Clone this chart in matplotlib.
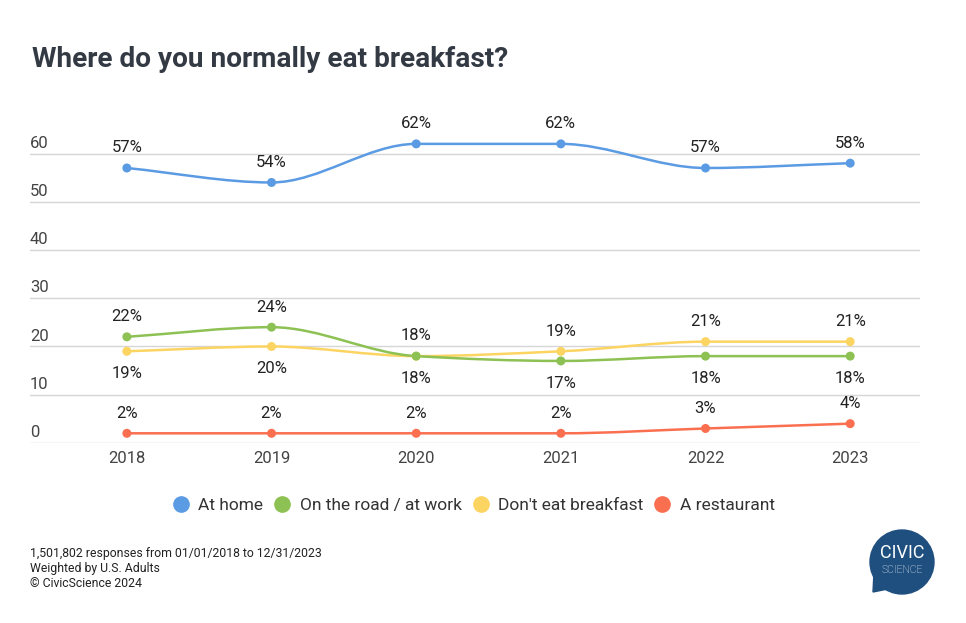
import numpy as np
import matplotlib
matplotlib.use("Agg")
import matplotlib.pyplot as plt
from matplotlib.path import Path
from matplotlib.patches import PathPatch, Circle, Polygon
from matplotlib.lines import Line2D

plt.rcParams['font.family'] = ['Roboto', 'DejaVu Sans']

# Data
years = ['2018', '2019', '2020', '2021', '2022', '2023']
at_home = [57, 54, 62, 62, 57, 58]
on_road = [22, 24, 18, 17, 18, 18]
dont_eat = [19, 20, 18, 19, 21, 21]
restaurant = [2, 2, 2, 2, 3, 4]
series_names = ['At home', 'On the road / at work', "Don't eat breakfast", 'A restaurant']
y_ticks = [0, 10, 20, 30, 40, 50, 60]

colors = ['#5b9be3', '#8dc153', '#fcd462', '#fa6f50']
# label placement: +1 above, -1 below
label_side = [
    [1, 1, 1, 1, 1, 1],
    [1, 1, 1, -1, -1, -1],
    [-1, -1, -1, 1, 1, 1],
    [1, 1, 1, 1, 1, 1],
]


def smooth_path(x, y):
    # monotone cubic tangents -> bezier segments
    x = np.asarray(x, float)
    y = np.asarray(y, float)
    n = len(x)
    d = np.diff(y) / np.diff(x)
    m = np.zeros(n)
    m[0], m[-1] = d[0], d[-1]
    for i in range(1, n - 1):
        if d[i - 1] * d[i] <= 0:
            m[i] = 0
        else:
            m[i] = 2 / (1 / d[i - 1] + 1 / d[i])
    verts = [(x[0], y[0])]
    codes = [Path.MOVETO]
    for i in range(n - 1):
        h = x[i + 1] - x[i]
        verts += [(x[i] + h / 3, y[i] + m[i] * h / 3),
                  (x[i + 1] - h / 3, y[i + 1] - m[i + 1] * h / 3),
                  (x[i + 1], y[i + 1])]
        codes += [Path.CURVE4] * 3
    return Path(verts, codes)


fig = plt.figure(figsize=(9.66, 6.23), dpi=100)
ax = fig.add_axes([0.031, 0.289, 0.921, 0.542])

xs = np.arange(len(years))
all_series = [at_home, on_road, dont_eat, restaurant]
# draw from back to front so the blue line sits on top
for vals, col, sides in zip(all_series[::-1], colors[::-1], label_side[::-1]):
    ax.add_patch(PathPatch(smooth_path(xs, vals), facecolor='none',
                           edgecolor=col, lw=1.8, zorder=3))
    ax.scatter(xs, vals, s=42, color=col, zorder=4, edgecolors='none')
    for xi, v, s in zip(xs, vals, sides):
        ax.annotate(f'{v}%', (xi, v), xytext=(0, 14.5 if s > 0 else -16),
                    textcoords='offset points', ha='center', va='center',
                    fontsize=12, color='#222222', zorder=5)

ax.set_xlim(-0.67, 5.48)
ax.set_ylim(0, 70)
ax.set_yticks(y_ticks)
ax.set_yticklabels([])
ax.tick_params(axis='y', length=0)
ax.grid(axis='y', color='#d6d6d6', lw=1)
ax.set_axisbelow(True)
for t in y_ticks:
    ax.text(0, t + 0.6, str(t), transform=ax.get_yaxis_transform(),
            ha='left', va='bottom', fontsize=12, color='#444444')

ax.set_xticks(xs)
ax.set_xticklabels(years, fontsize=12, color='#444444')
ax.tick_params(axis='x', length=0, pad=6)
for sp in ax.spines.values():
    sp.set_visible(False)

fig.text(0.033, 0.904, 'Where do you normally eat breakfast?', fontsize=20.2,
         fontweight='bold', color='#333a44', ha='left', va='center')

handles = [Line2D([], [], marker='o', ls='none', markersize=11, color=c) for c in colors]
fig.legend(handles, series_names, loc='center', bbox_to_anchor=(0.49, 0.189), ncol=4,
           frameon=False, fontsize=12.5, handlelength=1, handletextpad=0.5,
           columnspacing=0.6, labelcolor='#333333')

fig.text(0.031, 0.088, '1,501,802 responses from 01/01/2018 to 12/31/2023\n'
         'Weighted by U.S. Adults\n\u00a9 CivicScience 2024',
         fontsize=8.8, color='#222222', ha='left', va='center', linespacing=1.2)

# logo
logo = '#1f4f7f'
cx, cy, r = 902, 562, 32
fig.patches.append(Circle((cx, 623 - cy), r, transform=None, color=logo))
fig.patches.append(Polygon([(874, 623 - 572), (873, 623 - 592), (893, 623 - 588)],
                           closed=True, transform=None, color=logo))
fig.text(cx / 966, 1 - 553 / 623, 'CIVIC', fontsize=13, color='white',
         ha='center', va='center')
fig.text(cx / 966, 1 - 570 / 623, 'SCIENCE', fontsize=7.5, color='white',
         ha='center', va='center', fontweight='light')

fig.savefig('out.png', dpi=100)
